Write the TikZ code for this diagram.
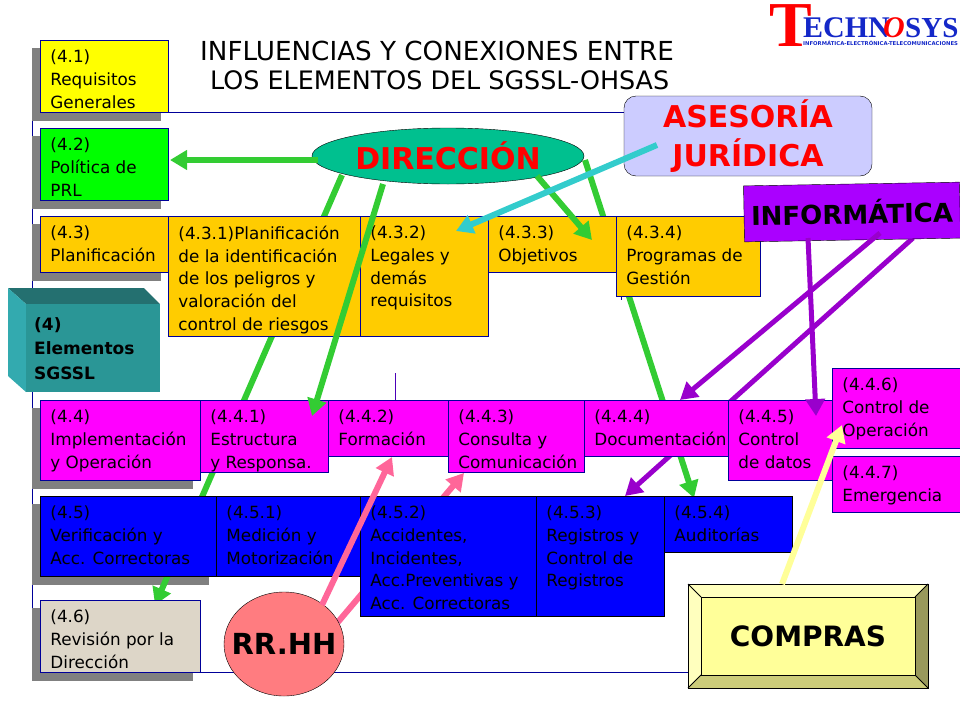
\documentclass[tikz,border=0pt]{standalone}
\usepackage{fontspec}
\setmainfont{DejaVu Sans}
\newfontfamily\logofont{Liberation Serif}
\usetikzlibrary{arrows.meta}
\usetikzlibrary{backgrounds}
\usetikzlibrary{shapes.geometric}
\definecolor{navyline}{RGB}{0, 0, 153}
\definecolor{shadowgray}{RGB}{128, 128, 128}
\definecolor{arrowgreen}{RGB}{51, 204, 51}
\definecolor{arrowcyan}{RGB}{51, 204, 204}
\definecolor{arrowpurple}{RGB}{153, 0, 204}
\definecolor{arrowpink}{RGB}{255, 102, 153}
\definecolor{arrowyellow}{RGB}{255, 255, 153}
\definecolor{boxyellow}{RGB}{255, 255, 0}
\definecolor{boxgreen}{RGB}{0, 255, 0}
\definecolor{boxorange}{RGB}{255, 204, 0}
\definecolor{boxmagenta}{RGB}{255, 0, 255}
\definecolor{boxblue}{RGB}{0, 0, 255}
\definecolor{boxbeige}{RGB}{221, 214, 200}
\definecolor{dirfill}{RGB}{0, 192, 143}
\definecolor{legalfill}{RGB}{204, 204, 255}
\definecolor{infofill}{RGB}{170, 0, 255}
\definecolor{rrhhfill}{RGB}{255, 124, 128}
\definecolor{logoblue}{RGB}{20, 40, 200}
\definecolor{blocktop}{RGB}{36, 112, 112}
\definecolor{blockleft}{RGB}{51, 170, 175}
\definecolor{blockfront}{RGB}{42, 150, 150}
\definecolor{bevellight}{RGB}{255, 255, 190}
\definecolor{bevelright}{RGB}{153, 153, 92}
\definecolor{bevellow}{RGB}{204, 204, 122}
\tikzset{
    elem/.style={draw=navyline, line width=0.9pt, anchor=north west, inner xsep=10pt, inner ysep=0pt,
        font=\fontsize{16.8}{22.7}\selectfont, align=left},
    reqbox/.style={elem, fill=boxyellow},
    polbox/.style={elem, fill=boxgreen},
    planbox/.style={elem, fill=boxorange},
    implbox/.style={elem, fill=boxmagenta},
    verbox/.style={elem, fill=boxblue, draw=black},
    revbox/.style={elem, fill=boxbeige},
    flow/.style={line width=6pt, -{Triangle[length=17pt,width=19pt]}},
    face/.style={draw=black, line width=0.9pt}
}
% box with its text at the upper left: name, style, x, y, width, height, text
\newcommand{\elembox}[7]{
    \node[#2, minimum width=#5pt, minimum height=#6pt] (#1) at (#3,#4)
        {\parbox[c][#6pt][t]{\dimexpr#5pt-20pt\relax}{\vspace*{9.5pt}#7}};
}
\begin{document}
\begin{tikzpicture}[x=1pt, y=-1pt]
    \useasboundingbox (0,0) rectangle (960,720);
    % Planning row
    \elembox{req}{reqbox}{40}{40}{128}{72}{(4.1)\\Requisitos\\Generales}
    \elembox{pol}{polbox}{40}{128}{128}{72}{(4.2)\\Política de\\PRL}
    \elembox{plan}{planbox}{40}{216}{128}{56}{(4.3)\\Planificación}
    \elembox{peligros}{planbox}{168}{216}{192}{120}{(4.3.1)Planificación\\de la identificación\\de los peligros y\\valoración del\\control de riesgos}
    \elembox{legal}{planbox}{360}{216}{128}{120}{(4.3.2)\\Legales y\\demás\\requisitos}
    \elembox{obj}{planbox}{488}{216}{128}{56}{(4.3.3)\\Objetivos}
    \elembox{prog}{planbox}{616}{216}{144}{80}{(4.3.4)\\Programas de\\Gestión}
    % Implementation row
    \elembox{impl}{implbox}{40}{400}{160}{80}{(4.4)\\Implementación\\y Operación}
    \elembox{estr}{implbox}{200}{400}{128}{72}{(4.4.1)\\Estructura\\y Responsa.}
    \elembox{form}{implbox}{328}{400}{120}{56}{(4.4.2)\\Formación}
    \elembox{cons}{implbox}{448}{400}{136}{72}{(4.4.3)\\Consulta y\\Comunicación}
    \elembox{doc}{implbox}{584}{400}{144}{56}{(4.4.4)\\Documentación}
    \elembox{datos}{implbox}{728}{400}{104}{80}{(4.4.5)\\Control\\de datos}
    \elembox{oper}{implbox}{832}{368}{128}{80}{(4.4.6)\\Control de\\Operación}
    \elembox{emer}{implbox}{832}{456}{128}{56}{(4.4.7)\\Emergencia}
    % Verification row
    \elembox{veri}{verbox}{40}{496}{176}{80}{(4.5)\\Verificación y\\Acc. Correctoras}
    \elembox{medi}{verbox}{216}{496}{144}{80}{(4.5.1)\\Medición y\\Motorización}
    \elembox{acci}{verbox}{360}{496}{176}{120}{(4.5.2)\\Accidentes,\\Incidentes,\\Acc.Preventivas y\\Acc. Correctoras}
    \elembox{regi}{verbox}{536}{496}{128}{120}{(4.5.3)\\Registros y\\Control de\\Registros}
    \elembox{audi}{verbox}{664}{496}{128}{56}{(4.5.4)\\Auditorías}
    \elembox{revi}{revbox}{40}{600}{160}{72}{(4.6)\\Revisión por la\\Dirección}
    % Actors
    \node[ellipse, draw=black, fill=dirfill, minimum width=272pt, minimum height=56pt, inner sep=0pt,
        text=red, font=\fontsize{30}{32}\selectfont\bfseries] (dir) at (448,156) {\makebox[0pt]{DIRECCIÓN}};
    \node[rectangle, rounded corners=12pt, draw=black, fill=legalfill, minimum width=248pt, minimum height=80pt,
        text=red, align=center, font=\fontsize{30}{39}\selectfont\bfseries] (ases) at (748,136) {ASESORÍA\\JURÍDICA};
    \node[rectangle, draw=black, fill=infofill, rotate=1, minimum width=216pt, minimum height=56pt, inner sep=0pt,
        font=\fontsize{26}{28}\selectfont\bfseries] (info) at (852,212) {INFORMÁTICA};
    \node[ellipse, draw=black, fill=rrhhfill, minimum width=120pt, minimum height=104pt, inner sep=0pt,
        font=\fontsize{29}{31}\selectfont\bfseries] (rrhh) at (284,644) {\makebox[0pt]{RR.HH}};
    % Bevelled box
    \fill[bevellight] (688,584) -- (928,584) -- (915,597) -- (701,597) -- (701,675) -- (688,688) -- cycle;
    \fill[bevelright] (928,584) -- (928,688) -- (915,675) -- (915,597) -- cycle;
    \fill[bevellow] (688,688) -- (928,688) -- (915,675) -- (701,675) -- cycle;
    \node[face, fill=arrowyellow, minimum width=214pt, minimum height=78pt, inner sep=0pt,
        font=\fontsize{28}{30}\selectfont\bfseries] (comp) at (808,636) {COMPRAS};
    \draw[face] (688,584) rectangle (928,688);
    \draw[face] (688,584) -- (701,597) (928,584) -- (915,597) (688,688) -- (701,675) (928,688) -- (915,675);
    % Block (4)
    \fill[blocktop] (8,288) -- (144,288) -- (160,304) -- (26,304) -- cycle;
    \fill[blockleft] (8,288) -- (26,304) -- (26,392) -- (8,376) -- cycle;
    \node[anchor=north west, fill=blockfront, minimum width=134pt, minimum height=88pt, inner xsep=8pt, inner ysep=0pt,
        align=left, font=\fontsize{17}{24.5}\selectfont\bfseries] (elem) at (26,304)
        {\parbox[c][88pt][t]{118pt}{\vspace*{13pt}(4)\\Elementos\\SGSSL}};
    % Title
    \node[anchor=north west, inner sep=0pt, align=left, font=\fontsize{26.2}{29}\selectfont] (title) at (200,41)
        {INFLUENCIAS Y CONEXIONES ENTRE\\\hspace{10pt}\fontsize{25.4}{29}\selectfont LOS ELEMENTOS DEL SGSSL-OHSAS};
    % Logo
    \node[anchor=south west, inner sep=0pt, text=red, font=\logofont\fontsize{64}{64}\selectfont\bfseries] (logot) at (769,47) {T};
    \node[anchor=south west, inner sep=0pt, text=logoblue, font=\logofont\fontsize{30}{30}\selectfont\bfseries] (logoa) at (803,38) {ECHN};
    \node[anchor=south west, inner sep=0pt, text=red, font=\logofont\fontsize{30}{30}\selectfont\bfseries\itshape] (logoo) at (883,38) {O};
    \node[anchor=south west, inner sep=0pt, text=logoblue, font=\logofont\fontsize{29}{29}\selectfont\bfseries] (logob) at (905,38) {SYS};
    \node[anchor=south west, inner sep=0pt, text=logoblue, font=\fontsize{5.3}{6}\selectfont\bfseries] (logoc) at (803,46) {INFORMÁTICA-ELECTRÓNICA-TELECOMUNICACIONES};
    % Ends of the connectors
    \coordinate (polin) at (170,160);
    \coordinate (dirout) at (318,160);
    \coordinate (dirlow) at (342,175);
    \coordinate (revin) at (155,605);
    \coordinate (dirdown) at (383,184);
    \coordinate (estrin) at (312,416);
    \coordinate (dirright) at (537,176);
    \coordinate (objin) at (592,240);
    \coordinate (dirfar) at (585,160);
    \coordinate (audiin) at (694,498);
    \coordinate (asesout) at (657,145);
    \coordinate (legalin) at (456,231);
    \coordinate (infoa) at (880,233);
    \coordinate (docin) at (680,400);
    \coordinate (infob) at (913,238);
    \coordinate (regiin) at (625,496);
    \coordinate (infoc) at (808,238);
    \coordinate (datosin) at (816,416);
    \coordinate (compout) at (782,584);
    \coordinate (operin) at (842,425);
    \coordinate (rrhha) at (322,605);
    \coordinate (formin) at (392,457);
    \coordinate (rrhhb) at (338,622);
    \coordinate (consin) at (464,473);
    % Frame, shadows and the connectors that pass behind the boxes
    \begin{pgfonlayer}{background}
        \draw[navyline, line width=0.8pt] (624,112) -- (32,112) -- (32,672) -- (690,672);
        \draw[navyline!70!magenta, line width=0.8pt] (395,373) -- (395,400);
        \draw[navyline, line width=0.8pt] (621,296) -- (621,300);
        \foreach \b in {req, pol, plan, impl, veri, revi}
            \fill[shadowgray] ([shift={(-8,8)}]\b.north west) rectangle ([shift={(-8,8)}]\b.south east);
        \draw[flow, arrowgreen] (dirlow) -- (revin);
        \draw[flow, arrowgreen] (dirfar) -- (audiin);
        \draw[flow, arrowpurple, line width=5pt] (infob) -- (regiin);
        \draw[flow, arrowpink] (rrhhb) -- (consin);
    \end{pgfonlayer}
    % Connectors in front
    \draw[flow, arrowgreen] (dirout) -- (polin);
    \draw[flow, arrowgreen] (dirdown) -- (estrin);
    \draw[flow, arrowgreen] (dirright) -- (objin);
    \draw[flow, arrowcyan] (asesout) -- (legalin);
    \draw[flow, arrowpurple, line width=5pt] (infoa) -- (docin);
    \draw[flow, arrowpurple, line width=5pt] (infoc) -- (datosin);
    \draw[flow, arrowyellow] (compout) -- (operin);
    \draw[flow, arrowpink] (rrhha) -- (formin);
\end{tikzpicture}
\end{document}
